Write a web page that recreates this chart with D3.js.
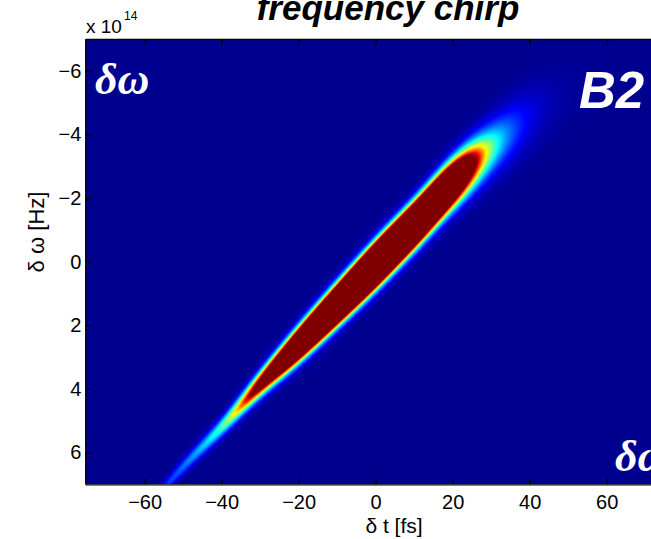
<!DOCTYPE html>
<html>
<head>
<meta charset="utf-8">
<script src="https://cdn.jsdelivr.net/npm/d3@7"></script>
<style>
  body { margin: 0; background: #fff; }
  svg { display: block; font-family: "Liberation Sans", Arial, sans-serif; }
  .axis path, .axis line { stroke: #000; stroke-width: 1.3; }
  .axis text { font-size: 20px; fill: #000; font-family: "Liberation Sans", Arial, sans-serif; }
</style>
</head>
<body>
<div id="chart"></div>
<script>
// ridge of the chirped pulse (t in fs, omega in 1e14 Hz)
var ridgeT     = [-80, -70, -60, -50, -40, -30, -20, -10, 0, 10, 20, 30, 40, 50, 60, 70, 80, 90];
var ridgeOmega = [10.5, 9.15, 7.8, 6.45, 5.2, 3.85, 2.6, 1.35, 0.1, -1.15, -2.45, -3.55, -4.5, -5.3, -6.0, -6.6, -7.1, -7.5];
var ridgeWidth = [0.12, 0.13, 0.14, 0.17, 0.20, 0.25, 0.30, 0.33, 0.35, 0.37, 0.42, 0.53, 0.66, 0.72, 0.78, 0.82, 0.86, 0.9];
var ridgePeak  = [0.02, 0.045, 0.1, 0.22, 0.45, 1.3, 3.2, 5.2, 7.0, 5.4, 2.8, 0.5, 0.095, 0.015, 0.002, 0.0002, 0.00003, 0.000005];

var xTicks = [-60, -40, -20, 0, 20, 40, 60];
var yTicks = [-6, -4, -2, 0, 2, 4, 6];
var xDomain = [-75.4, 85];
var yDomain = [-7, 7];

var vis = {};
vis.margin = { top: 39, left: 85.3 };
vis.width = 617.7;
vis.height = 445.3;

vis.svg = d3.select("#chart").append("svg")
    .attr("width", 651)
    .attr("height", 539);

vis.g = vis.svg.append("g")
    .attr("transform", "translate(" + vis.margin.left + "," + vis.margin.top + ")");

vis.x = d3.scaleLinear().domain(xDomain).range([0, vis.width]);
vis.y = d3.scaleLinear().domain(yDomain).range([0, vis.height]);

// matlab jet
function jet(v) {
    v = Math.max(0, Math.min(1, v));
    var s = 1 / 64 + v * (1 - 1 / 64);
    var c = function(k) { return Math.max(0, Math.min(1, 1.5 - Math.abs(4 * s - k))); };
    return [c(3) * 255, c(2) * 255, c(1) * 255];
}

// catmull-rom through the ridge knots
function spline(xs, ys, x) {
    var h = xs[1] - xs[0];
    x = Math.max(xs[0], Math.min(xs[xs.length - 1], x));
    var f = (x - xs[0]) / h;
    var i = Math.max(0, Math.min(xs.length - 2, Math.floor(f)));
    var u = f - i;
    var p0 = ys[Math.max(i - 1, 0)], p1 = ys[i], p2 = ys[i + 1], p3 = ys[Math.min(i + 2, ys.length - 1)];
    return 0.5 * ((2 * p1) + (-p0 + p2) * u + (2 * p0 - 5 * p1 + 4 * p2 - p3) * u * u +
        (-p0 + 3 * p1 - 3 * p2 + p3) * u * u * u);
}

var logPeak = ridgePeak.map(function(d) { return Math.log(d); });

// paint the field into a canvas, one column at a time
var W = Math.round(vis.width), H = Math.round(vis.height);
var canvas = document.createElement("canvas");
canvas.width = W;
canvas.height = H;
var ctx = canvas.getContext("2d");
var img = ctx.createImageData(W, H);

for (var px = 0; px < W; px++) {
    var t = vis.x.invert(px + 0.5);
    var wc = spline(ridgeT, ridgeOmega, t);
    var sg = spline(ridgeT, ridgeWidth, t);
    var amp = Math.exp(spline(ridgeT, logPeak, t));
    for (var py = 0; py < H; py++) {
        var w = vis.y.invert(py + 0.5);
        var d = (w - wc) / sg;
        var col = jet(amp * Math.exp(-0.5 * d * d));
        var k = (py * W + px) * 4;
        img.data[k] = col[0];
        img.data[k + 1] = col[1];
        img.data[k + 2] = col[2];
        img.data[k + 3] = 255;
    }
}
ctx.putImageData(img, 0, 0);

vis.g.append("image")
    .attr("width", W)
    .attr("height", H)
    .attr("preserveAspectRatio", "none")
    .attr("href", canvas.toDataURL());

// axes, matlab style ticks pointing in
vis.g.append("g").attr("class", "axis")
    .attr("transform", "translate(0," + vis.height + ")")
    .call(d3.axisBottom(vis.x).tickValues(xTicks).tickSizeInner(-6).tickSizeOuter(0).tickPadding(11));
vis.g.append("g").attr("class", "axis")
    .call(d3.axisTop(vis.x).tickValues(xTicks).tickSizeInner(-6).tickSizeOuter(0).tickFormat(""));
vis.g.append("g").attr("class", "axis")
    .call(d3.axisLeft(vis.y).tickValues(yTicks).tickSizeInner(-6).tickSizeOuter(0).tickPadding(4));
vis.g.append("g").attr("class", "axis")
    .attr("transform", "translate(" + vis.width + ",0)")
    .call(d3.axisRight(vis.y).tickValues(yTicks).tickSizeInner(-6).tickSizeOuter(0).tickFormat(""));

vis.g.selectAll(".axis text").attr("fill", "#000");

// titles and labels
vis.svg.append("text")
    .attr("x", 388).attr("y", 20)
    .attr("text-anchor", "middle")
    .style("font-size", "35px").style("font-weight", "bold").style("font-style", "italic")
    .text("frequency chirp");

vis.svg.append("text")
    .attr("x", 86).attr("y", 33)
    .style("font-size", "19px")
    .text("x 10");
vis.svg.append("text")
    .attr("x", 124).attr("y", 20)
    .style("font-size", "12px")
    .text("14");

vis.svg.append("text")
    .attr("x", 394).attr("y", 533)
    .attr("text-anchor", "middle")
    .style("font-size", "21px")
    .text("δ t [fs]");

vis.svg.append("text")
    .attr("transform", "translate(44,232) rotate(-90)")
    .attr("text-anchor", "middle")
    .style("font-size", "22px")
    .text("δ ω [Hz]");

// white annotations inside the plot
vis.svg.append("text")
    .attr("x", 95).attr("y", 94)
    .attr("fill", "#fff")
    .style("font-family", "'Liberation Serif', serif")
    .style("font-size", "44px").style("font-style", "italic").style("font-weight", "bold")
    .text("δω");

vis.svg.append("text")
    .attr("x", 579).attr("y", 108)
    .attr("fill", "#fff")
    .style("font-size", "51px").style("font-style", "italic").style("font-weight", "bold")
    .text("B2");

vis.svg.append("text")
    .attr("x", 615).attr("y", 471)
    .attr("fill", "#fff")
    .style("font-family", "'Liberation Serif', serif")
    .style("font-size", "44px").style("font-style", "italic").style("font-weight", "bold")
    .text("δω");
</script>
</body>
</html>
